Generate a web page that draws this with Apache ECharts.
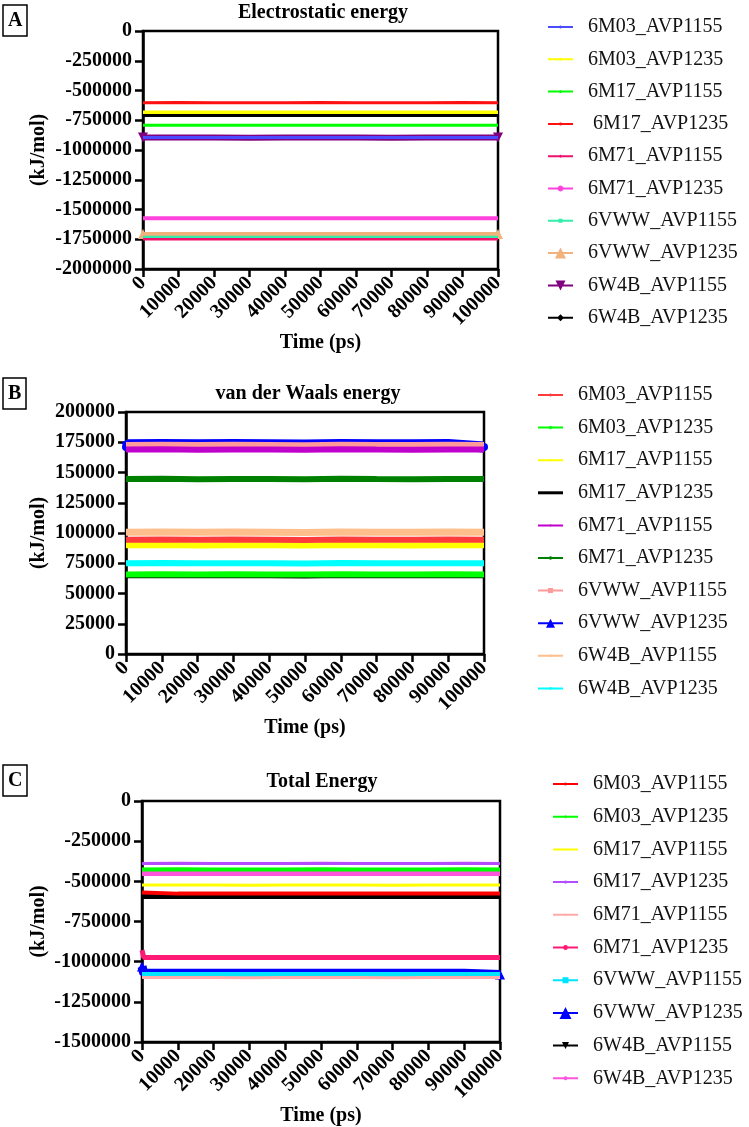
<!DOCTYPE html>
<html>
<head>
<meta charset="utf-8">
<script src="https://cdn.jsdelivr.net/npm/echarts@6/dist/echarts.min.js"></script>
<style>
html,body{margin:0;padding:0;background:#fff;}
#chart{width:749px;height:1127px;}
</style>
</head>
<body>
<div id="chart"></div>
<script>
// ---------------- DATA ----------------
const timePs = [0, 500, 10000, 20000, 30000, 40000, 50000, 60000, 70000, 80000, 90000, 100000];
const xTicks = [0, 10000, 20000, 30000, 40000, 50000, 60000, 70000, 80000, 90000, 100000];
const yTicksA = [0, -250000, -500000, -750000, -1000000, -1250000, -1500000, -1750000, -2000000];
const yTicksB = [0, 25000, 50000, 75000, 100000, 125000, 150000, 175000, 200000];
const yTicksC = [0, -250000, -500000, -750000, -1000000, -1250000, -1500000];

const namesA = ['6M03_AVP1155', '6M03_AVP1235', '6M17_AVP1155', ' 6M17_AVP1235', '6M71_AVP1155',
                '6M71_AVP1235', '6VWW_AVP1155', '6VWW_AVP1235', '6W4B_AVP1155', '6W4B_AVP1235'];
const namesB = ['6M03_AVP1155', '6M03_AVP1235', '6M17_AVP1155', '6M17_AVP1235', '6M71_AVP1155',
                '6M71_AVP1235', '6VWW_AVP1155', '6VWW_AVP1235', '6W4B_AVP1155', '6W4B_AVP1235'];
const namesC = ['6M03_AVP1155', '6M03_AVP1235', '6M17_AVP1155', '6M17_AVP1235', '6M71_AVP1155',
                '6M71_AVP1235', '6VWW_AVP1155', '6VWW_AVP1235', '6W4B_AVP1155', '6W4B_AVP1235'];

// Panel A: Electrostatic energy (kJ/mol)
const elec_6M03_AVP1155 = [-894000,-895000,-894500,-895500,-894000,-895000,-894500,-895000,-894000,-895500,-894500,-895000];
const elec_6M03_AVP1235 = [-683000,-683500,-682500,-683000,-683500,-682500,-683000,-683500,-683000,-682500,-683000,-683500];
const elec_6M17_AVP1155 = [-792000,-792500,-791500,-792000,-792500,-792000,-791500,-792000,-792500,-792000,-791500,-792000];
const elec_6M17_AVP1235 = [-602000,-602500,-601500,-602000,-602500,-602000,-601500,-602000,-602000,-602500,-601500,-602000];
const elec_6M71_AVP1155 = [-1750000,-1750500,-1749500,-1750000,-1750500,-1750000,-1749500,-1750000,-1750500,-1750000,-1749500,-1750000];
const elec_6M71_AVP1235 = [-1574000,-1574500,-1573500,-1574000,-1574500,-1574000,-1573500,-1574000,-1574500,-1574000,-1573500,-1574000];
const elec_6VWW_AVP1155 = [-1733000,-1733500,-1732500,-1733000,-1733500,-1733000,-1732500,-1733000,-1733500,-1733000,-1732500,-1733000];
const elec_6VWW_AVP1235 = [-1706000,-1706500,-1705500,-1706000,-1706500,-1706000,-1705500,-1706000,-1706500,-1706000,-1705500,-1706000];
const elec_6W4B_AVP1155 = [-896000,-896500,-895500,-896000,-896500,-896000,-895500,-896000,-896500,-896000,-895500,-896000];
const elec_6W4B_AVP1235 = [-708000,-708500,-707500,-708000,-708500,-708000,-707500,-708000,-708500,-708000,-707500,-708000];

// Panel B: van der Waals energy (kJ/mol)
const vdw_6M03_AVP1155 = [94500,94300,94700,94400,94600,94500,94300,94700,94500,94400,94600,94500];
const vdw_6M03_AVP1235 = [65800,65600,66000,65700,65900,65800,65600,66000,65800,65700,65900,65800];
const vdw_6M17_AVP1155 = [89800,89600,90000,89700,89900,89800,89600,90000,89800,89700,89900,89800];
const vdw_6M17_AVP1235 = [64300,64100,64500,64200,64400,64300,64100,64500,64300,64200,64400,64300];
const vdw_6M71_AVP1155 = [169000,168800,169200,168900,169100,169000,168800,169200,169000,168900,169100,169000];
const vdw_6M71_AVP1235 = [144600,144400,144800,144500,144700,144600,144400,144800,144600,144500,144700,144600];
const vdw_6VWW_AVP1155 = [172800,172600,173000,172700,172900,172800,172600,173000,172800,172700,172900,172800];
const vdw_6VWW_AVP1235 = [171000,173000,173200,172900,173100,173000,172800,173200,173000,172900,173100,171000];
const vdw_6W4B_AVP1155 = [100700,100500,100900,100600,100800,100700,100500,100900,100700,100600,100800,100700];
const vdw_6W4B_AVP1235 = [75000,74800,75200,74900,75100,75000,74800,75200,75000,74900,75100,75000];

// Panel C: Total energy (kJ/mol)
const tot_6M03_AVP1155 = [-570000,-576000,-576500,-575500,-576000,-576500,-576000,-575500,-576000,-576500,-576000,-575500];
const tot_6M03_AVP1235 = [-426000,-426500,-425500,-426000,-426500,-426000,-425500,-426000,-426500,-426000,-425500,-426000];
const tot_6M17_AVP1155 = [-523500,-524000,-523000,-523500,-524000,-523500,-523000,-523500,-524000,-523500,-523000,-523500];
const tot_6M17_AVP1235 = [-388500,-389000,-388000,-388500,-389000,-388500,-388000,-388500,-389000,-388500,-388000,-388500];
const tot_6M71_AVP1155 = [-1099000,-1099500,-1098500,-1099000,-1099500,-1099000,-1098500,-1099000,-1099500,-1099000,-1098500,-1099000];
const tot_6M71_AVP1235 = [-928000,-974000,-974500,-973500,-974000,-974500,-974000,-973500,-974000,-974500,-974000,-973500];
const tot_6VWW_AVP1155 = [-1080000,-1080500,-1079500,-1080000,-1080500,-1080000,-1079500,-1080000,-1080500,-1080000,-1079500,-1080000];
const tot_6VWW_AVP1235 = [-1030000,-1072000,-1072500,-1071500,-1072000,-1072500,-1072000,-1071500,-1072000,-1072500,-1072000,-1080000];
const tot_6W4B_AVP1155 = [-594000,-594500,-593500,-594000,-594500,-594000,-593500,-594000,-594500,-594000,-593500,-594000];
const tot_6W4B_AVP1235 = [-450500,-451000,-450000,-450500,-451000,-450500,-450000,-450500,-451000,-450500,-450000,-450500];

const valuesA = [elec_6M03_AVP1155, elec_6M03_AVP1235, elec_6M17_AVP1155, elec_6M17_AVP1235, elec_6M71_AVP1155,
                 elec_6M71_AVP1235, elec_6VWW_AVP1155, elec_6VWW_AVP1235, elec_6W4B_AVP1155, elec_6W4B_AVP1235];
const valuesB = [vdw_6M03_AVP1155, vdw_6M03_AVP1235, vdw_6M17_AVP1155, vdw_6M17_AVP1235, vdw_6M71_AVP1155,
                 vdw_6M71_AVP1235, vdw_6VWW_AVP1155, vdw_6VWW_AVP1235, vdw_6W4B_AVP1155, vdw_6W4B_AVP1235];
const valuesC = [tot_6M03_AVP1155, tot_6M03_AVP1235, tot_6M17_AVP1155, tot_6M17_AVP1235, tot_6M71_AVP1155,
                 tot_6M71_AVP1235, tot_6VWW_AVP1155, tot_6VWW_AVP1235, tot_6W4B_AVP1155, tot_6W4B_AVP1235];

// ---------------- STYLES ----------------
// [color, lineWidth, legendSymbol, legendSymbolSize, endSymbol, endSymbolSize, endSymbolRotate]
const styleA = [
  ['#4b4bff', 3, 'circle', 3, null, 0, 0],
  ['#ffff00', 3.5, 'circle', 3, null, 0, 0],
  ['#00ff00', 3, 'circle', 3, null, 0, 0],
  ['#ff1010', 3, 'circle', 3, null, 0, 0],
  ['#f0106e', 2.5, 'circle', 3, null, 0, 0],
  ['#ff44dd', 4, 'circle', 6, null, 0, 0],
  ['#33eeaa', 3, 'square', 4, null, 0, 0],
  ['#f2b27c', 4, 'triangle', 11, 'triangle', 10, 0],
  ['#800080', 6, 'triangleDown', 10, 'triangle', 10, 180],
  ['#000000', 3.5, 'diamond', 7, null, 0, 0]
];
const styleB = [
  ['#ff3c3c', 6, 'circle', 3, null, 0, 0],
  ['#00ff00', 6, 'circle', 3.5, null, 0, 0],
  ['#ffff00', 6, 'circle', 2.5, null, 0, 0],
  ['#000000', 4, 'none', 0, null, 0, 0],
  ['#c000cc', 6, 'circle', 2.5, null, 0, 0],
  ['#008000', 6, 'circle', 3.5, null, 0, 0],
  ['#ff9a9a', 6, 'square', 5, null, 0, 0],
  ['#0000ff', 11, 'triangle', 9, 'circle', 8, 0],
  ['#ffbf8c', 7, 'circle', 3, null, 0, 0],
  ['#00ffff', 6, 'circle', 3, null, 0, 0]
];
const styleC = [
  ['#ff0000', 4, 'circle', 3, null, 0, 0],
  ['#00ff00', 4, 'circle', 3, null, 0, 0],
  ['#ffff00', 3, 'circle', 2.5, null, 0, 0],
  ['#b44cff', 3, 'circle', 3, null, 0, 0],
  ['#ffaaaa', 3, 'circle', 2.5, null, 0, 0],
  ['#ff1a75', 5, 'circle', 5, null, 0, 0],
  ['#00e5ff', 5, 'square', 6, null, 0, 0],
  ['#0000ff', 9, 'triangle', 12, 'triangle', 10, 0],
  ['#000000', 5, 'triangleDown', 7, null, 0, 0],
  ['#ff55dd', 5, 'circle', 4, null, 0, 0]
];

const FONT = 'Liberation Serif, Times New Roman, serif';

function legendIcon(sym, size, lw) {
  const h = lw / 2;
  let p = 'M0,' + (-h) + 'H25V' + h + 'H0Z';
  const c = 12.5, r = size / 2;
  if (sym === 'circle') {
    let s = '';
    for (let k = 0; k < 12; k++) {
      const a = k / 12 * Math.PI * 2;
      s += (k === 0 ? 'M' : 'L') + (c + r * Math.cos(a)).toFixed(2) + ',' + (r * Math.sin(a)).toFixed(2);
    }
    p += s + 'Z';
  } else if (sym === 'square') {
    p += 'M' + (c - r) + ',' + (-r) + 'H' + (c + r) + 'V' + r + 'H' + (c - r) + 'Z';
  } else if (sym === 'triangle') {
    p += 'M' + c + ',' + (-r) + 'L' + (c + r) + ',' + r + 'L' + (c - r) + ',' + r + 'Z';
  } else if (sym === 'triangleDown') {
    p += 'M' + (c - r) + ',' + (-r) + 'L' + (c + r) + ',' + (-r) + 'L' + c + ',' + r + 'Z';
  } else if (sym === 'diamond') {
    p += 'M' + c + ',' + (-r) + 'L' + (c + r) + ',0L' + c + ',' + r + 'L' + (c - r) + ',0Z';
  }
  return 'path://' + p;
}

function makeSeries(panel, idx, names, values, styles) {
  return names.map(function (n, i) {
    const st = styles[i];
    const last = values[i].length - 1;
    const endSize = st[5];
    return {
      type: 'line',
      name: panel + '|' + n,
      xAxisIndex: idx, yAxisIndex: idx,
      data: timePs.map(function (t, j) { return [t, values[i][j]]; }),
      color: st[0],
      lineStyle: { color: st[0], width: st[1] },
      itemStyle: { color: st[0] },
      symbol: st[4] || 'circle',
      symbolRotate: st[6],
      showSymbol: !!st[4],
      symbolSize: function (v, p) { return (p.dataIndex === 0 || p.dataIndex === last) ? endSize : 0; },
      clip: !st[4],
      z: 20 - i,
      animation: false,
      silent: true
    };
  });
}

function makeLegend(panel, names, styles, left, top, gap) {
  return {
    orient: 'vertical', left: left, top: top,
    itemWidth: 25, itemHeight: 14, itemGap: gap,
    padding: 0,
    selectedMode: false,
    itemStyle: { borderWidth: 0 },
    textStyle: { fontFamily: FONT, fontSize: 20, color: '#111', lineHeight: 20, padding: [0, 0, 0, 10] },
    formatter: function (name) { return name.split('|')[1]; },
    data: names.map(function (n, i) {
      return { name: panel + '|' + n, icon: legendIcon(styles[i][2], styles[i][3], styles[i][2] === 'none' ? 3 : 2) };
    })
  };
}

function xAxisOpt(idx, gap) {
  return {
    type: 'value', gridIndex: idx, min: xTicks[0], max: xTicks[xTicks.length - 1], interval: 10000,
    name: 'Time (ps)', nameLocation: 'middle', nameGap: gap,
    nameTextStyle: { fontFamily: FONT, fontWeight: 'bold', fontSize: 20, color: '#000' },
    axisLine: { show: true, onZero: false, lineStyle: { color: '#000', width: 2.5 } },
    axisTick: { show: true, length: 8, lineStyle: { color: '#000', width: 2.5 } },
    axisLabel: { rotate: 45, margin: 11, fontFamily: FONT, fontWeight: 'bold', fontSize: 20, color: '#000',
                 formatter: function (v) { return String(v); } },
    splitLine: { show: false }
  };
}
function yAxisOpt(idx, ticks, gap) {
  const mn = Math.min.apply(null, ticks), mx = Math.max.apply(null, ticks);
  return {
    type: 'value', gridIndex: idx, min: mn, max: mx, interval: Math.abs(ticks[1] - ticks[0]),
    name: '(kJ/mol)', nameLocation: 'middle', nameGap: gap, nameRotate: 90,
    nameTextStyle: { fontFamily: FONT, fontWeight: 'bold', fontSize: 20, color: '#000' },
    axisLine: { show: true, onZero: false, lineStyle: { color: '#000', width: 2.5 } },
    axisTick: { show: true, length: 8, lineStyle: { color: '#000', width: 2.5 } },
    axisLabel: { margin: 11, fontFamily: FONT, fontWeight: 'bold', fontSize: 20, color: '#000',
                 formatter: function (v) { return String(v); } },
    splitLine: { show: false }
  };
}

function panelLetter(letter, top) {
  return {
    text: letter, left: 3, top: top, padding: [5, 5, 4, 5],
    borderColor: '#000', borderWidth: 1.5,
    textStyle: { fontFamily: FONT, fontWeight: 'bold', fontSize: 20, color: '#000', lineHeight: 22 }
  };
}
function panelTitle(text, x, y) {
  return {
    type: 'text', x: x, y: y, z: 50,
    style: { text: text, textAlign: 'center', textVerticalAlign: 'middle',
             font: 'bold 20px ' + FONT, fill: '#000' }
  };
}

const gridBorder = { show: true, borderColor: '#000', borderWidth: 2.5, backgroundColor: 'transparent' };

const option = {
  backgroundColor: '#fff',
  animation: false,
  title: [panelLetter('A', 5), panelLetter('B', 378), panelLetter('C', 765)],
  graphic: [
    panelTitle('Electrostatic energy', 323, 13),
    panelTitle('van der Waals energy', 308, 394),
    panelTitle('Total Energy', 322, 782)
  ],
  grid: [
    Object.assign({ left: 143, top: 31, width: 355, height: 238 }, gridBorder),
    Object.assign({ left: 126, top: 412, width: 358, height: 242 }, gridBorder),
    Object.assign({ left: 142, top: 801, width: 358, height: 241 }, gridBorder)
  ],
  xAxis: [xAxisOpt(0, 64), xAxisOpt(1, 63), xAxisOpt(2, 61)],
  yAxis: [yAxisOpt(0, yTicksA, 94), yAxisOpt(1, yTicksB, 77), yAxisOpt(2, yTicksC, 93)],
  legend: [
    makeLegend('A', namesA, styleA, 548, 17, 12.3),
    makeLegend('B', namesB, styleB, 538, 385, 12.6),
    makeLegend('C', namesC, styleC, 553, 774, 12.7)
  ],
  series: [].concat(
    makeSeries('A', 0, namesA, valuesA, styleA),
    makeSeries('B', 1, namesB, valuesB, styleB),
    makeSeries('C', 2, namesC, valuesC, styleC)
  )
};

const chart = echarts.init(document.getElementById('chart'), null, { renderer: 'canvas' });
chart.setOption(option);
</script>
</body>
</html>
